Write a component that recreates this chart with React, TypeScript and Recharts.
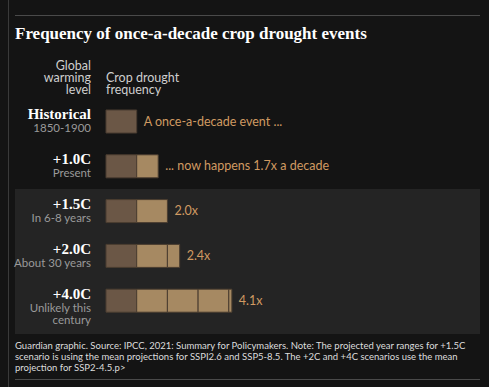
import React from "react"
import { BarChart, Bar, XAxis, YAxis, LabelList } from "recharts"

const levels = ["Historical", "+1.0C", "+1.5C", "+2.0C", "+4.0C"]
const subLabels = [["1850-1900"], ["Present"], ["In 6-8 years"], ["About 30 years"], ["Unlikely this", "century"]]
const frequency = [1, 1.7, 2.0, 2.4, 4.1]
const valueLabels = ["A once-a-decade event ...", "... now happens 1.7x a decade", "2.0x", "2.4x", "4.1x"]

const SEGMENTS = ["s1", "s2", "s3", "s4", "s5"]

// split each frequency into one-decade blocks so every block gets its own outline;
// the last non-empty block of a row carries the row's label
const data = levels.map((level, i) => {
  const row: any = { level, sub: subLabels[i] }
  SEGMENTS.forEach((k, j) => {
    const rest = frequency[i] - j
    row[k] = Math.max(0, Math.min(1, rest))
    row["l_" + k] = rest > 0 && rest <= 1 ? valueLabels[i] : ""
  })
  return row
})

const DARK = "#6b5746"
const LIGHT = "#a68962"
const EDGE = "#4a3d30"
const sans = "Lato, sans-serif"
const serif = "'Liberation Serif', serif"

const LevelTick = (props: any) => {
  const { x, y, payload, index } = props
  const subs = data[index]?.sub || []
  return (
    <g>
      <text x={x} y={y - 2} textAnchor="end" fill="#ffffff" fontFamily={serif} fontWeight="bold" fontSize={15}>
        {payload.value}
      </text>
      {subs.map((s: string, j: number) => (
        <text key={j} x={x} y={y + 11 + j * 12} textAnchor="end" fill="#9a9a9a" fontFamily={sans} fontSize={11.5}>
          {s}
        </text>
      ))}
    </g>
  )
}

const ValueLabel = (props: any) => {
  const { x, y, width, height, value } = props
  if (!value) return null
  return (
    <text x={x + width + 7} y={y + height / 2 + 4} fill="#d09a62" fontFamily={sans} fontSize={12.5}>
      {value}
    </text>
  )
}

export default function App() {
  return (
    <div style={{ position: "relative", width: 489, height: 387, background: "#141414", overflow: "hidden", fontFamily: sans }}>
      <style>{`body{margin:0}`}</style>
      <div style={{ position: "absolute", left: 8, top: 0, width: 1, height: 387, background: "#3a3a3a" }} />
      <div style={{ position: "absolute", left: 15, top: 15, width: 465, height: 1, background: "#4a4a4a" }} />
      <div style={{ position: "absolute", left: 15, top: 379, width: 465, height: 1, background: "#4a4a4a" }} />
      <div style={{ position: "absolute", left: 15, top: 189, width: 465, height: 145, background: "#242424" }} />
      <div style={{ position: "absolute", left: 15, top: 24, color: "#ffffff", fontFamily: serif, fontWeight: "bold", fontSize: 17, whiteSpace: "nowrap" }}>
        Frequency of once-a-decade crop drought events
      </div>
      <div style={{ position: "absolute", right: 489 - 91, top: 60, color: "#cfcfcf", fontSize: 12.5, lineHeight: "12px", textAlign: "right" }}>
        Global<br />warming<br />level
      </div>
      <div style={{ position: "absolute", left: 106, top: 72, color: "#cfcfcf", fontSize: 12.5, lineHeight: "12px" }}>
        Crop drought<br />frequency
      </div>
      <div style={{ position: "absolute", left: 0, top: 0 }}>
        <BarChart
          width={489}
          height={387}
          data={data}
          layout="vertical"
          margin={{ top: 99, right: 76, bottom: 64, left: 0 }}
          barSize={23}
        >
          <XAxis type="number" domain={[0, 10]} hide />
          <YAxis
            type="category"
            dataKey="level"
            width={106}
            axisLine={false}
            tickLine={false}
            tickSize={0}
            tickMargin={15}
            tick={<LevelTick />}
            interval={0}
          />
          {SEGMENTS.map((k, j) => (
            <Bar key={k} dataKey={k} stackId="f" fill={j === 0 ? DARK : LIGHT} stroke={EDGE} strokeWidth={1} isAnimationActive={false}>
              <LabelList dataKey={"l_" + k} content={<ValueLabel />} />
            </Bar>
          ))}
        </BarChart>
      </div>
      <div style={{ position: "absolute", left: 15, top: 340, width: 465, color: "#dddddd", fontSize: 9.5, lineHeight: "11px" }}>
        Guardian graphic. Source: IPCC, 2021: Summary for Policymakers. Note: The projected year ranges for +1.5C scenario is using the mean projections for SSPI2.6 and SSP5-8.5. The +2C and +4C scenarios use the mean projection for SSP2-4.5.p&gt;
      </div>
    </div>
  )
}
